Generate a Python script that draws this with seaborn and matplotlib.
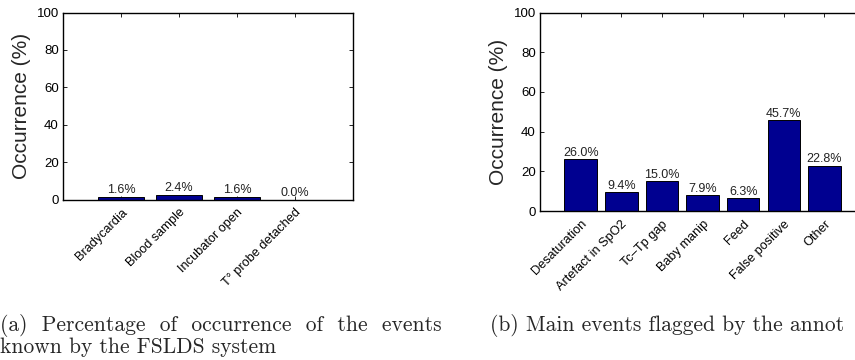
import matplotlib
matplotlib.use("Agg")
import matplotlib.pyplot as plt
import seaborn as sns
import pandas as pd

# ---- data ----
cats_a = ["Bradycardia", "Blood sample", "Incubator open", "T\u00b0 probe detached"]
vals_a = [1.6, 2.4, 1.6, 0.0]
cats_b = ["Desaturation", "Artefact in SpO2", "Tc\u2013Tp gap", "Baby manip",
          "Feed", "False positive", "Other"]
vals_b = [26.0, 9.4, 15.0, 7.9, 6.3, 45.7, 22.8]
yticks = [0, 20, 40, 60, 80, 100]
caption_a1 = "(a)  Percentage  of  occurrence  of  the  events"
caption_a2 = "known by the FSLDS system"
caption_b = "(b) Main events flagged by the annot"

sns.set_style("ticks")
plt.rcParams["font.family"] = ["Liberation Sans", "DejaVu Sans"]
plt.rcParams["xtick.direction"] = "in"
plt.rcParams["ytick.direction"] = "in"

BAR = "#000090"

fig = plt.figure(figsize=(8.55, 3.6), dpi=100)
ax1 = fig.add_axes([63 / 855, 1 - 199.5 / 360, 290 / 855, 187 / 360])
ax2 = fig.add_axes([540 / 855, 1 - 211 / 360, 325 / 855, 198.5 / 360])


def draw(ax, cats, vals):
    df = pd.DataFrame({"cat": cats, "val": vals})
    sns.barplot(data=df, x="cat", y="val", order=cats, ax=ax, color=BAR,
                saturation=1, edgecolor="black", linewidth=0.7, width=0.8)
    for c in ax.containers:
        ax.bar_label(c, labels=[f"{v:.1f}%" for v in vals], padding=0.5,
                     fontsize=9, color="#222222")
    n = len(cats)
    ax.set_xlim(-1, n)
    ax.set_ylim(0, 100)
    ax.set_yticks(yticks)
    ax.set_yticklabels([str(t) for t in yticks], fontsize=9.5)
    ax.set_xticks(range(n))
    ax.set_xticklabels(cats, rotation=45, ha="right", rotation_mode="anchor",
                       fontsize=9.2)
    ax.set_xlabel("")
    ax.set_ylabel("Occurrence (%)", fontsize=15)
    ax.tick_params(axis="both", which="both", top=True, right=True,
                   length=3, width=0.6, pad=3, colors="black")
    ax.tick_params(axis="x", pad=5)
    for s in ax.spines.values():
        s.set_visible(True)
        s.set_linewidth(1.0)
        s.set_color("black")


draw(ax1, cats_a, vals_a)
draw(ax2, cats_b, vals_b)
ax2.spines["right"].set_visible(False)

fig.text(0.0, 1 - 331 / 360, caption_a1, family="cmr10", fontsize=15.5,
         va="baseline", ha="left")
fig.text(0.0, 1 - 353 / 360, caption_a2, family="cmr10", fontsize=15.5,
         va="baseline", ha="left")
fig.text(490 / 855, 1 - 331 / 360, caption_b, family="cmr10", fontsize=15.5,
         va="baseline", ha="left")

fig.savefig("out.png", dpi=100)
